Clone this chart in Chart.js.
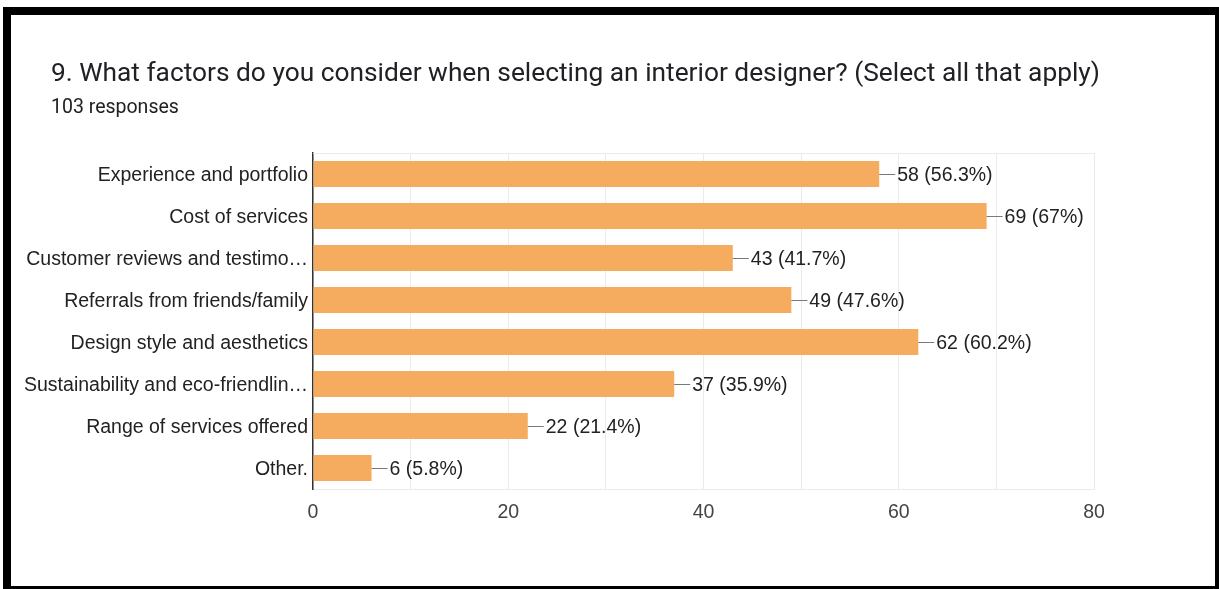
<!DOCTYPE html>
<html>
<head>
<meta charset="utf-8">
<script src="https://cdn.jsdelivr.net/npm/chart.js@4"></script>
<style>
    html, body { margin: 0; padding: 0; background: #fff; }
    body { width: 1219px; height: 589px; position: relative; overflow: hidden; }
    .chart-wrap { position: absolute; left: 0; top: 0; width: 1219px; height: 589px; }
    .frame {
        position: absolute; left: 3px; top: 7px; width: 1216px; height: 582px;
        box-sizing: border-box; pointer-events: none;
        border-left: 8px solid #000; border-top: 8px solid #000;
        border-right: 4px solid #000; border-bottom: 3px solid #000;
    }
    .question, .responses {
        position: absolute; left: 51px; margin: 0;
        font-family: Roboto, sans-serif; color: #202124; line-height: 1; white-space: nowrap;
    }
    .question { top: 59px; font-size: 26.3px; font-weight: normal; }
    .responses { top: 97px; font-size: 19.5px; }
</style>
</head>
<body>
<div class="chart-wrap"><canvas id="factors-chart" width="1219" height="589"></canvas></div>
<h2 class="question" id="question"></h2>
<div class="responses" id="responses"></div>
<div class="frame"></div>
<script>
const questionTitle = '9. What factors do you consider when selecting an interior designer? (Select all that apply)';
const totalResponses = 103;
const factorLabels = [
    'Experience and portfolio',
    'Cost of services',
    'Customer reviews and testimo\u2026',
    'Referrals from friends/family',
    'Design style and aesthetics',
    'Sustainability and eco-friendlin\u2026',
    'Range of services offered',
    'Other.'
];
const factorCounts = [58, 69, 43, 49, 62, 37, 22, 6];
const axisMax = 80;

const labelFont = { family: 'Arial, "Liberation Sans", sans-serif', size: 19.5 };

document.getElementById('question').textContent = questionTitle;
document.getElementById('responses').textContent = totalResponses + ' responses';

// percentage text like Forms shows it: one decimal, trailing .0 dropped
function percentText(count) {
    const pct = (count / totalResponses * 100).toFixed(1);
    return pct.endsWith('.0') ? pct.slice(0, -2) : pct;
}

// light line along the top of the plot area
const plotFrame = {
    id: 'plotFrame',
    beforeDatasetsDraw(chart) {
        const { ctx, chartArea: a } = chart;
        ctx.save();
        ctx.strokeStyle = '#ebebeb';
        ctx.lineWidth = 1;
        ctx.beginPath();
        ctx.moveTo(a.left, a.top + 0.5);
        ctx.lineTo(a.right, a.top + 0.5);
        ctx.stroke();
        ctx.restore();
    }
};

// leader line and "count (pct%)" after each bar
const valueLabels = {
    id: 'valueLabels',
    afterDatasetsDraw(chart) {
        const { ctx } = chart;
        const meta = chart.getDatasetMeta(0);
        ctx.save();
        ctx.font = labelFont.size + 'px ' + labelFont.family;
        ctx.textBaseline = 'middle';
        ctx.textAlign = 'left';
        meta.data.forEach((bar, i) => {
            const y = Math.round(bar.y) + 0.5;
            ctx.strokeStyle = '#7a7a7a';
            ctx.lineWidth = 1;
            ctx.beginPath();
            ctx.moveTo(bar.x, y);
            ctx.lineTo(bar.x + 16, y);
            ctx.stroke();
            ctx.fillStyle = '#222';
            ctx.fillText(factorCounts[i] + ' (' + percentText(factorCounts[i]) + '%)', bar.x + 18, bar.y + 2);
        });
        ctx.restore();
    }
};

new Chart(document.getElementById('factors-chart'), {
    type: 'bar',
    data: {
        labels: factorLabels,
        datasets: [{
            data: factorCounts,
            backgroundColor: 'rgb(246, 172, 95)',
            borderWidth: 0,
            barPercentage: 0.62,
            categoryPercentage: 1
        }]
    },
    options: {
        indexAxis: 'y',
        responsive: false,
        animation: false,
        layout: { padding: { left: 0, right: 125, top: 153, bottom: 0 } },
        plugins: {
            legend: { display: false },
            tooltip: { enabled: false }
        },
        scales: {
            x: {
                min: 0,
                max: axisMax,
                ticks: {
                    stepSize: 10,
                    color: '#444',
                    font: labelFont,
                    padding: 12,
                    callback: v => (v % 20 === 0 ? v : '')
                },
                grid: { color: '#ebebeb', drawTicks: false },
                border: { display: true, color: '#ebebeb' },
                afterFit(scale) { scale.height = 100; }
            },
            y: {
                ticks: { color: '#222', font: labelFont, padding: 5, labelOffset: 1.5 },
                grid: { display: false, drawTicks: false },
                border: { display: true, color: '#333', width: 1.5 },
                afterFit(scale) { scale.width = 313; }
            }
        }
    },
    plugins: [plotFrame, valueLabels]
});
</script>
</body>
</html>
